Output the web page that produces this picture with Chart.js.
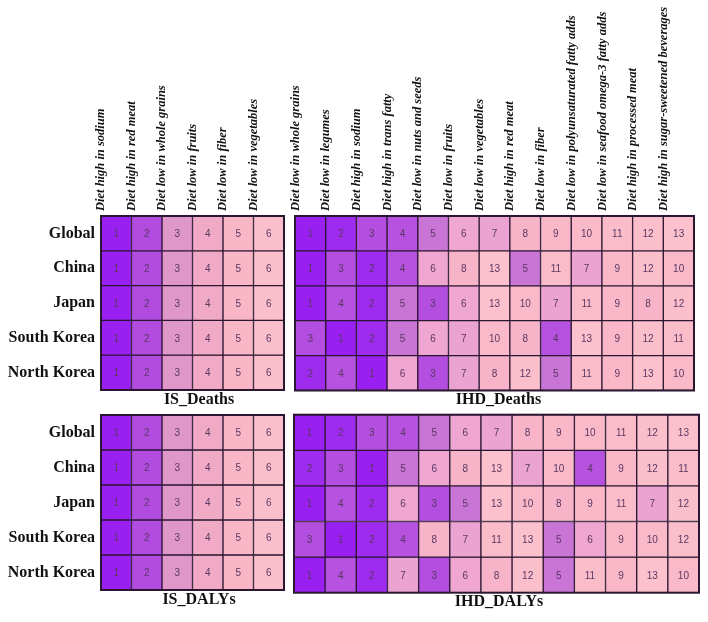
<!DOCTYPE html>
<html>
<head>
<meta charset="utf-8">
<script src="https://cdn.jsdelivr.net/npm/chart.js@4.4.1/dist/chart.umd.min.js"></script>
<style>
  body { margin: 0; background: #fff; }
  #wrap { position: relative; width: 708px; height: 622px; overflow: hidden; }
  canvas { position: absolute; }
</style>
</head>
<body>
<div id="wrap">
  <canvas id="isDeaths"></canvas>
  <canvas id="ihdDeaths"></canvas>
  <canvas id="isDalys"></canvas>
  <canvas id="ihdDalys"></canvas>
</div>
<script>
const countries = ["Global", "China", "Japan", "South Korea", "North Korea"];

const isRisks = [
  "Diet high in sodium",
  "Diet high in red meat",
  "Diet low in whole grains",
  "Diet low in fruits",
  "Diet low in fiber",
  "Diet low in vegetables",
];

const ihdRisks = [
  "Diet low in whole grains",
  "Diet low in legumes",
  "Diet high in sodium",
  "Diet high in trans fatty",
  "Diet low in nuts and seeds",
  "Diet low in fruits",
  "Diet low in vegetables",
  "Diet high in red meat",
  "Diet low in fiber",
  "Diet low in polyunsaturated fatty adds",
  "Diet low in seafood omega-3 fatty adds",
  "Diet high in processed meat",
  "Diet high in sugar-sweetened beverages",
];

// ranks, one row per country
const isDeathsRanks = [
  [1, 2, 3, 4, 5, 6],
  [1, 2, 3, 4, 5, 6],
  [1, 2, 3, 4, 5, 6],
  [1, 2, 3, 4, 5, 6],
  [1, 2, 3, 4, 5, 6],
];
const isDalysRanks = [
  [1, 2, 3, 4, 5, 6],
  [1, 2, 3, 4, 5, 6],
  [1, 2, 3, 4, 5, 6],
  [1, 2, 3, 4, 5, 6],
  [1, 2, 3, 4, 5, 6],
];
const ihdDeathsRanks = [
  [1, 2, 3, 4, 5, 6, 7, 8, 9, 10, 11, 12, 13],
  [1, 3, 2, 4, 6, 8, 13, 5, 11, 7, 9, 12, 10],
  [1, 4, 2, 5, 3, 6, 13, 10, 7, 11, 9, 8, 12],
  [3, 1, 2, 5, 6, 7, 10, 8, 4, 13, 9, 12, 11],
  [2, 4, 1, 6, 3, 7, 8, 12, 5, 11, 9, 13, 10],
];
const ihdDalysRanks = [
  [1, 2, 3, 4, 5, 6, 7, 8, 9, 10, 11, 12, 13],
  [2, 3, 1, 5, 6, 8, 13, 7, 10, 4, 9, 12, 11],
  [1, 4, 2, 6, 3, 5, 13, 10, 8, 9, 11, 7, 12],
  [3, 1, 2, 4, 8, 7, 11, 13, 5, 6, 9, 10, 12],
  [1, 4, 2, 7, 3, 6, 8, 12, 5, 11, 9, 13, 10],
];

// colour for each rank
const isColors = ["#9a20f2", "#b24ce1", "#df97ca", "#f1aac5", "#f8b6c7", "#fbbfcb"];
const ihdColors = [
  "#9a20f2", "#9f2bee", "#b34ee0", "#b751e0", "#c975d6", "#efa6d0", "#eba3d1",
  "#f7b3c8", "#f9b7c8", "#f9b9c9", "#fbbcca", "#fbbecb", "#fcc1cc",
];

const cellBorder = "#2a1630";

function makeGrid(id, g, risks, ranks, colors, title, showRows, showHeads) {
  const cv = document.getElementById(id);
  cv.width = g.W;
  cv.height = g.H;
  cv.style.left = g.left + "px";
  cv.style.top = g.top + "px";

  const datasets = ranks.map((row, r) => ({
    label: countries[r],
    data: row.map(() => [r, r + 1]),
    backgroundColor: row.map((k) => colors[k - 1]),
    borderColor: cellBorder,
    borderWidth: 1,
    borderSkipped: false,
  }));

  const numbers = {
    id: "numbers",
    afterDatasetsDraw(chart) {
      const ctx = chart.ctx;
      ctx.save();
      ctx.font = "10px 'Liberation Sans', Arial, sans-serif";
      ctx.fillStyle = "#5a3862";
      ctx.textAlign = "center";
      ctx.textBaseline = "middle";
      ranks.forEach((row, r) => {
        chart.getDatasetMeta(r).data.forEach((bar, c) => {
          ctx.fillText(row[c], bar.x, (bar.y + bar.base) / 2 + 1);
        });
      });
      const a = chart.chartArea;
      ctx.strokeStyle = cellBorder;
      ctx.lineWidth = 2;
      ctx.strokeRect(a.left, a.top, a.right - a.left, a.bottom - a.top);
      ctx.restore();
    },
  };

  const titleH = 16 * 1.2;
  new Chart(cv, {
    type: "bar",
    data: { labels: risks, datasets: datasets },
    options: {
      responsive: false,
      animation: false,
      layout: {
        padding: { left: 0, top: 0, right: 0, bottom: g.H - g.aB - titleH },
      },
      datasets: {
        bar: { barPercentage: 1, categoryPercentage: 1, grouped: false },
      },
      scales: {
        x: {
          type: "category",
          position: "top",
          grid: { display: false, drawTicks: false },
          border: { display: false },
          ticks: {
            display: showHeads,
            autoSkip: false,
            minRotation: 90,
            maxRotation: 90,
            padding: 5,
            color: "#111",
            font: { family: "'Liberation Serif', serif", style: "italic", weight: "bold", size: 12.5 },
          },
          afterFit: (s) => { s.height = g.aT; },
        },
        y: {
          type: "linear",
          position: "right",
          min: 0,
          max: countries.length,
          reverse: true,
          grid: { display: false, drawTicks: false },
          border: { display: false },
          ticks: { display: false },
          afterFit: (s) => { s.width = g.W - g.aR; },
        },
        y2: {
          type: "category",
          position: "left",
          labels: countries,
          offset: true,
          grid: { display: false, drawTicks: false },
          border: { display: false },
          ticks: {
            display: showRows,
            padding: 6,
            color: "#111",
            font: { family: "'Liberation Serif', serif", weight: "bold", size: 16 },
          },
          afterFit: (s) => { s.width = g.aL; },
        },
      },
      plugins: {
        legend: { display: false },
        tooltip: { enabled: false },
        title: {
          display: true,
          text: title,
          position: "bottom",
          color: "#111",
          padding: { top: 0, bottom: 0 },
          font: { family: "'Liberation Serif', serif", weight: "bold", size: 16, lineHeight: 1.2 },
        },
      },
    },
    plugins: [numbers],
  });
}

makeGrid("isDeaths", { left: 0, top: 0, W: 398, H: 412, aL: 101, aR: 284, aT: 216, aB: 390 },
  isRisks, isDeathsRanks, isColors, "IS_Deaths", true, true);
makeGrid("ihdDeaths", { left: 283, top: 0, W: 431, H: 412, aL: 12, aR: 411, aT: 216, aB: 390.5 },
  ihdRisks, ihdDeathsRanks, ihdColors, "IHD_Deaths", false, true);
makeGrid("isDalys", { left: 0, top: 380, W: 398, H: 242, aL: 101, aR: 284, aT: 35, aB: 210 },
  isRisks, isDalysRanks, isColors, "IS_DALYs", true, false);
makeGrid("ihdDalys", { left: 282, top: 380, W: 434, H: 242, aL: 12, aR: 417, aT: 34.7, aB: 212.7 },
  ihdRisks, ihdDalysRanks, ihdColors, "IHD_DALYs", false, false);
</script>
</body>
</html>
